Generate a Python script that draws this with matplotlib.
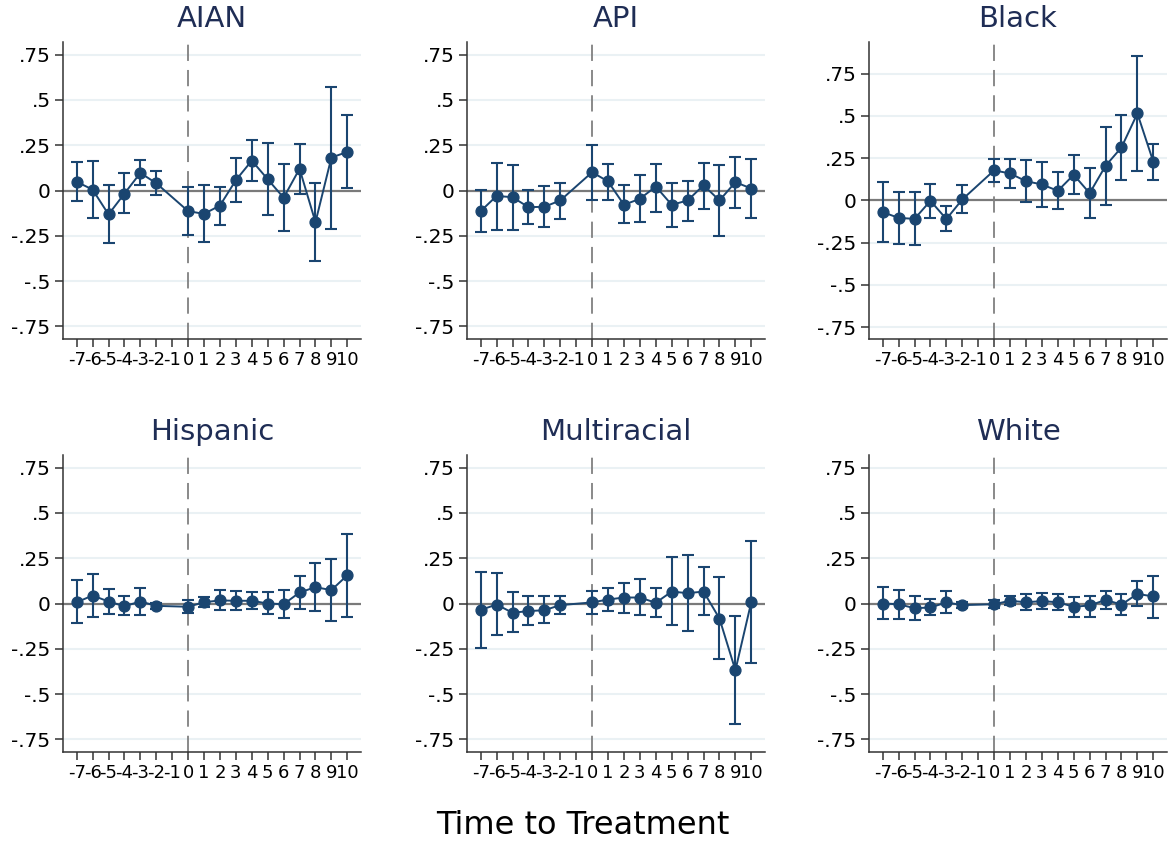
import numpy as np
import matplotlib.pyplot as plt

# event time, -1 is the omitted reference period
periods = [-7, -6, -5, -4, -3, -2, 0, 1, 2, 3, 4, 5, 6, 7, 8, 9, 10]
xticks = list(range(-7, 11))

groups = ["AIAN", "API", "Black", "Hispanic", "Multiracial", "White"]

aian_b = [0.048, 0.005, -0.132, -0.017, 0.097, 0.040, -0.114, -0.129, -0.083, 0.057, 0.165, 0.062, -0.040, 0.120, -0.175, 0.182, 0.213]
aian_hi = [0.160, 0.163, 0.031, 0.097, 0.167, 0.105, 0.022, 0.028, 0.018, 0.178, 0.278, 0.263, 0.145, 0.257, 0.040, 0.574, 0.415]
aian_lo = [-0.060, -0.150, -0.292, -0.125, 0.028, -0.026, -0.243, -0.283, -0.188, -0.064, 0.053, -0.136, -0.224, -0.020, -0.388, -0.210, 0.013]

api_b = [-0.114, -0.030, -0.037, -0.092, -0.090, -0.055, 0.101, 0.050, -0.079, -0.046, 0.022, -0.079, -0.055, 0.029, -0.055, 0.046, 0.011]
api_hi = [0.004, 0.154, 0.143, 0.004, 0.024, 0.044, 0.252, 0.147, 0.028, 0.083, 0.147, 0.042, 0.055, 0.154, 0.142, 0.186, 0.173]
api_lo = [-0.230, -0.217, -0.219, -0.184, -0.199, -0.156, -0.051, -0.051, -0.182, -0.173, -0.118, -0.202, -0.169, -0.101, -0.250, -0.096, -0.151]

black_b = [-0.069, -0.103, -0.109, -0.002, -0.110, 0.006, 0.178, 0.160, 0.114, 0.095, 0.057, 0.152, 0.043, 0.205, 0.314, 0.515, 0.229]
black_hi = [0.107, 0.053, 0.049, 0.097, -0.032, 0.091, 0.247, 0.247, 0.239, 0.227, 0.166, 0.268, 0.193, 0.436, 0.503, 0.858, 0.337]
black_lo = [-0.245, -0.255, -0.262, -0.105, -0.180, -0.075, 0.109, 0.071, -0.008, -0.037, -0.049, 0.037, -0.103, -0.026, 0.124, 0.172, 0.124]

hisp_b = [0.007, 0.044, 0.011, -0.015, 0.011, -0.013, -0.018, 0.007, 0.017, 0.015, 0.015, 0.000, -0.004, 0.061, 0.090, 0.074, 0.156]
hisp_hi = [0.129, 0.165, 0.081, 0.039, 0.086, 0.002, 0.017, 0.037, 0.074, 0.068, 0.061, 0.064, 0.075, 0.154, 0.222, 0.246, 0.384]
hisp_lo = [-0.110, -0.074, -0.057, -0.066, -0.061, -0.028, -0.051, -0.020, -0.037, -0.037, -0.029, -0.059, -0.081, -0.028, -0.042, -0.094, -0.072]

multi_b = [-0.035, -0.006, -0.051, -0.042, -0.037, -0.009, 0.006, 0.022, 0.033, 0.033, 0.004, 0.066, 0.057, 0.066, -0.083, -0.369, 0.009]
multi_hi = [0.173, 0.167, 0.061, 0.042, 0.042, 0.044, 0.070, 0.086, 0.112, 0.134, 0.086, 0.256, 0.270, 0.204, 0.145, -0.070, 0.346]
multi_lo = [-0.244, -0.176, -0.158, -0.121, -0.108, -0.059, -0.059, -0.042, -0.050, -0.066, -0.074, -0.121, -0.153, -0.064, -0.307, -0.665, -0.329]

white_b = [0.000, -0.004, -0.026, -0.022, 0.006, -0.009, -0.004, 0.015, 0.007, 0.013, 0.007, -0.018, -0.011, 0.020, -0.006, 0.053, 0.039]
white_hi = [0.092, 0.074, 0.042, 0.024, 0.070, 0.006, 0.018, 0.039, 0.053, 0.059, 0.050, 0.037, 0.044, 0.070, 0.051, 0.123, 0.154]
white_lo = [-0.088, -0.083, -0.092, -0.066, -0.055, -0.026, -0.024, -0.007, -0.037, -0.033, -0.035, -0.075, -0.072, -0.028, -0.061, -0.015, -0.081]

coefs = [aian_b, api_b, black_b, hisp_b, multi_b, white_b]
upper = [aian_hi, api_hi, black_hi, hisp_hi, multi_hi, white_hi]
lower = [aian_lo, api_lo, black_lo, hisp_lo, multi_lo, white_lo]

yticks = [-0.75, -0.5, -0.25, 0, 0.25, 0.5, 0.75]
ylabels = ["-.75", "-.5", "-.25", "0", ".25", ".5", ".75"]

navy = "#1a4570"
W, H = 1170, 843
fig = plt.figure(figsize=(W / 100, H / 100), dpi=100)

lefts = [63, 467, 869]
tops = [42, 455]
aw, ah = 298, 297

for i, g in enumerate(groups):
    r, c = divmod(i, 3)
    ax = fig.add_axes([lefts[c] / W, 1 - (tops[r] + ah) / H, aw / W, ah / H])
    b = np.array(coefs[i])
    hi = np.array(upper[i])
    lo = np.array(lower[i])

    for yv in [-0.75, -0.5, -0.25, 0.25, 0.5, 0.75]:
        ax.axhline(yv, color="#eaf1f4", lw=1.5, zorder=0)
    ax.axhline(0, color="#7a7a7a", lw=1.6, zorder=1)
    ax.axvline(0, color="#808080", lw=1.3, ls=(0, (9, 5)), zorder=1)

    ax.errorbar(periods, b, yerr=[b - lo, hi - b], fmt="none", ecolor=navy,
                elinewidth=1.5, capsize=4.5, capthick=1.5, zorder=2)
    ax.plot(periods, b, "-o", color=navy, lw=1.4, ms=7.8, zorder=3)

    top = max(0.82, hi.max() + 0.08)
    ax.set_ylim(-0.82, top)
    ax.set_xlim(-7.86, 10.86)
    ax.set_yticks(yticks)
    ax.set_yticklabels(ylabels, fontsize=14.5)
    ax.set_xticks(xticks)
    ax.set_xticklabels([str(t) for t in xticks], fontsize=13)
    ax.tick_params(direction="out", length=6, width=1.1, color="#333333", pad=3)

    for s in ["top", "right"]:
        ax.spines[s].set_visible(False)
    for s in ["left", "bottom"]:
        ax.spines[s].set_color("#333333")
        ax.spines[s].set_linewidth(1.1)

    ax.set_title(g, fontsize=21, color="#1f2d55", pad=11)

fig.text(0.498, 0.021, "Time to Treatment", fontsize=23, ha="center", va="center")

fig.savefig("out.png", dpi=100, facecolor="white")
